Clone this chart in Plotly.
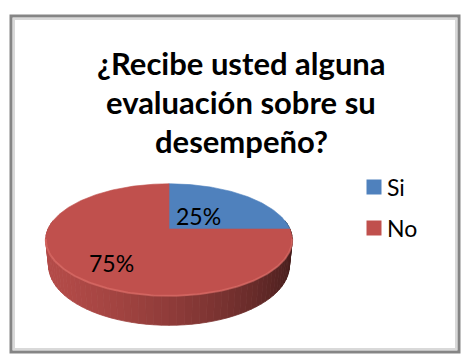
import math
import plotly.graph_objects as go

# ---- data ----
categories = ["Si", "No"]
values = [25, 75]
slice_colors = ["#4F81BD", "#C0504D"]
title_lines = ["¿Recibe usted alguna", "evaluación sobre su", "desempeño?"]

W, H = 466, 356

# ---- 3D pie projection (pixel space) ----
CX, CY = 169.0, 229.0       # screen position of the pie centre
S_T = 0.446                 # sin of the tilt
C_T = math.sqrt(1 - S_T ** 2)
K = 4.638                   # camera distance (in radii)
F = 561.0                   # focal length (px)
THICK = 0.24                # disc thickness (in radii)


def proj(X, Y, Z=0.0):
    d = K + Y * C_T - Z * S_T
    v = Y * S_T + Z * C_T
    return CX + F * X / d, CY - F * v / d


def rim(theta_deg, r=1.0, z=0.0):
    t = math.radians(theta_deg)
    return proj(r * math.sin(t), r * math.cos(t), z)


def hex_rgb(h):
    h = h.lstrip("#")
    return tuple(int(h[i:i + 2], 16) for i in (0, 2, 4))


def shade(h, factor):
    r, g, b = hex_rgb(h)
    return "rgb(%d,%d,%d)" % tuple(max(0, min(255, int(round(ch * factor)))) for ch in (r, g, b))


total = float(sum(values))
bounds = []
acc = 0.0
for v in values:
    a0 = acc / total * 360.0
    acc += v
    a1 = acc / total * 360.0
    bounds.append((a0, a1))

fig = go.Figure()

# side wall strips, drawn back to front
strips = []
STEP = 3.0
for (a0, a1), col in zip(bounds, slice_colors):
    n = max(1, int(math.ceil((a1 - a0) / STEP)))
    for i in range(n):
        t0 = a0 + (a1 - a0) * i / n
        t1 = a0 + (a1 - a0) * (i + 1) / n
        tm = math.radians((t0 + t1) / 2)
        if math.cos(tm) > 0.15:
            continue
        # light coming from the front-left
        lit = math.sin(tm) * -0.9 + math.cos(tm) * -0.44
        factor = 0.60 + 0.33 * lit
        strips.append((math.cos(tm), t0, t1, shade(col, factor)))
strips.sort(key=lambda s: -s[0])
for _, t0, t1, colr in strips:
    p = [rim(t0), rim(t1), rim(t1, z=-THICK), rim(t0, z=-THICK)]
    fig.add_trace(go.Scatter(
        x=[q[0] for q in p] + [p[0][0]], y=[q[1] for q in p] + [p[0][1]],
        mode="lines", fill="toself", fillcolor=colr,
        line=dict(color=colr, width=0.8), hoverinfo="skip", showlegend=False))

# top faces of the slices
for (a0, a1), col, name in zip(bounds, slice_colors, categories):
    n = max(2, int((a1 - a0) / 1.0))
    pts = [proj(0, 0)] + [rim(a0 + (a1 - a0) * i / n) for i in range(n + 1)] + [proj(0, 0)]
    fig.add_trace(go.Scatter(
        x=[q[0] for q in pts], y=[q[1] for q in pts],
        mode="lines", fill="toself", fillcolor=col,
        line=dict(color=col, width=0.6), name=name, hoverinfo="skip", showlegend=False))

# soft highlight on the front edge of the top face
hl = [rim(100 + i) for i in range(0, 161)]
fig.add_trace(go.Scatter(
    x=[q[0] for q in hl], y=[q[1] for q in hl], mode="lines",
    line=dict(color="rgba(225,115,110,0.55)", width=2),
    hoverinfo="skip", showlegend=False))

annotations = []

# percentage labels
label_r = [0.36, 0.62]
label_dy = [0, 8]
for (a0, a1), v, r, dy in zip(bounds, values, label_r, label_dy):
    lx, ly = rim((a0 + a1) / 2, r=r)
    annotations.append(dict(
        x=lx, y=ly + dy, xref="x", yref="y", text="%d%%" % round(v / total * 100),
        showarrow=False, font=dict(family="Lato", size=23, color="#000000"),
        xanchor="center", yanchor="middle"))

# title, one annotation per line
for i, line in enumerate(title_lines):
    annotations.append(dict(
        x=241, y=63 + i * 39, xref="x", yref="y", text="<b>%s</b>" % line,
        showarrow=False, font=dict(family="Lato", size=31, color="#000000"),
        xanchor="center", yanchor="middle"))

# legend
LEG_X, LEG_Y0, LEG_DY = 374, 187, 41
fig.add_trace(go.Scatter(
    x=[LEG_X] * len(categories), y=[LEG_Y0 + i * LEG_DY for i in range(len(categories))],
    mode="markers", marker=dict(symbol="square", size=15, color=slice_colors, line=dict(width=0)),
    hoverinfo="skip", showlegend=False))
for i, name in enumerate(categories):
    annotations.append(dict(
        x=LEG_X + 11, y=LEG_Y0 + i * LEG_DY, xref="x", yref="y", text=name,
        showarrow=False, font=dict(family="Lato", size=23, color="#000000"),
        xanchor="left", yanchor="middle"))

shapes = [
    dict(type="rect", xref="x", yref="y", x0=11, y0=16, x1=459, y1=352,
         line=dict(color="#858585", width=3), layer="below"),
    dict(type="rect", xref="x", yref="y", x0=14, y0=19, x1=456, y1=349,
         line=dict(color="#d9d9d9", width=2), layer="below"),
]

fig.update_layout(
    width=W, height=H, margin=dict(l=0, r=0, t=0, b=0),
    paper_bgcolor="white", plot_bgcolor="white",
    xaxis=dict(range=[0, W], visible=False, fixedrange=True),
    yaxis=dict(range=[H, 0], visible=False, fixedrange=True),
    annotations=annotations, shapes=shapes, showlegend=False,
)

fig.write_html("out.html")
